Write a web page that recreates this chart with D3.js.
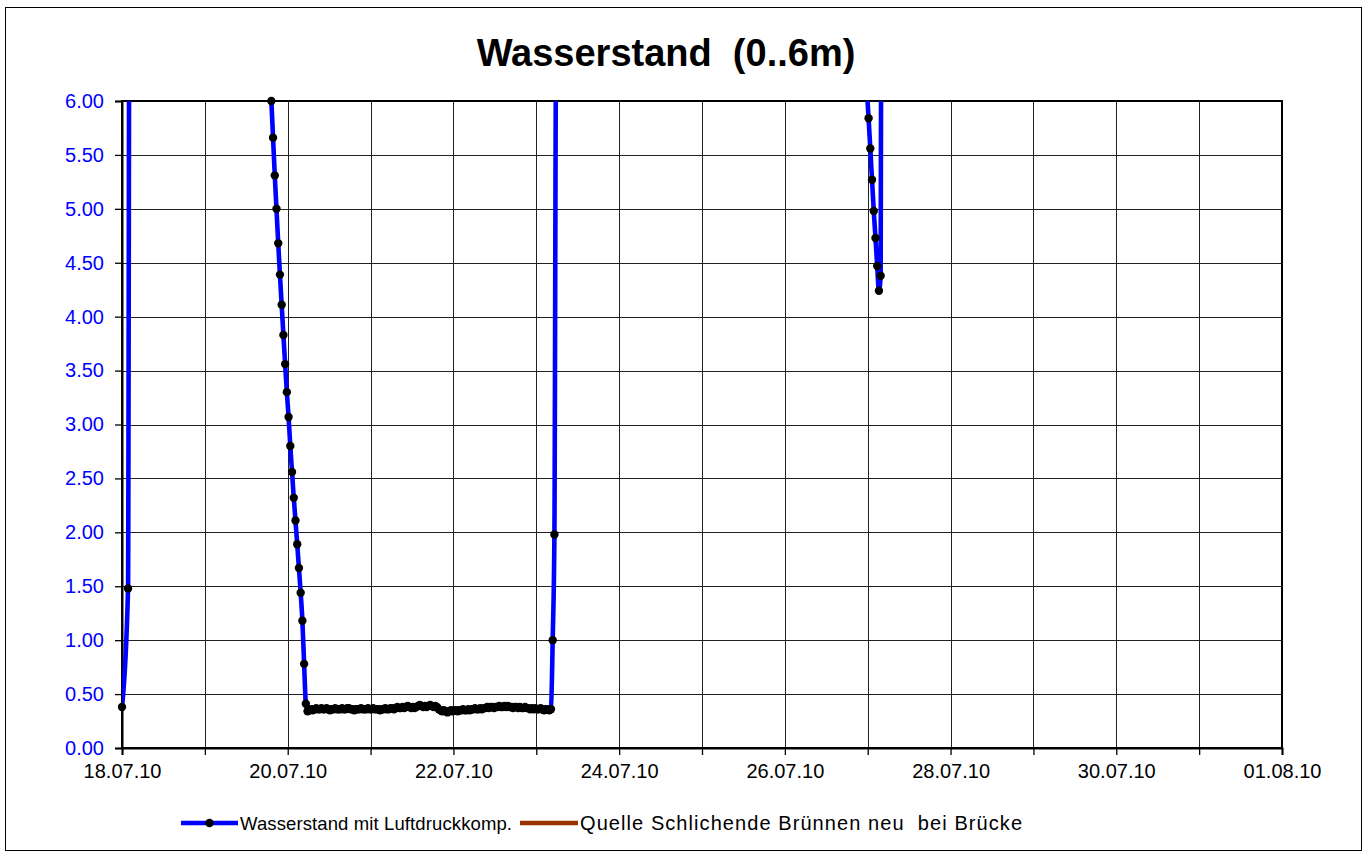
<!DOCTYPE html>
<html>
<head>
<meta charset="utf-8">
<script src="https://cdn.jsdelivr.net/npm/d3@7"></script>
<style>
  html, body { margin: 0; padding: 0; background: #fff; }
  svg { display: block; }
  text { font-family: "Liberation Sans", Arial, sans-serif; }
</style>
</head>
<body>
<svg id="chart" width="1368" height="858"></svg>
<script>
// ---------------- data ----------------
const chartTitle = "Wasserstand  (0..6m)";
const seriesNames = ["Wasserstand mit Luftdruckkomp.", "Quelle Schlichende Brünnen neu  bei Brücke"];

// start of record (values above 6 m are off the scale)
const leadTimes  = ["18.07.10 00:00", "18.07.10 01:45", "18.07.10 02:15", "19.07.10 18:45"];
const leadValues = [0.38, 1.48, 9.0, 6.2];

// continuous 30-minute log run starting 19.07.10 19:15
const runStart = "19.07.10 19:15";
const runStepMinutes = 30;
const runDescent = [6.00, 5.66, 5.31, 5.00, 4.68, 4.39, 4.11, 3.83, 3.56, 3.30,
                    3.07, 2.80, 2.56, 2.32, 2.11, 1.89, 1.67, 1.44, 1.18, 0.78, 0.41];
const runFlat = [
  0.34, 0.35, 0.36, 0.35, 0.36, 0.37, 0.36, 0.36, 0.37, 0.36,
  0.36, 0.37, 0.36, 0.35, 0.36, 0.36, 0.37, 0.36, 0.36, 0.36,
  0.37, 0.36, 0.36, 0.37, 0.37, 0.36, 0.36, 0.35, 0.36, 0.36,
  0.36, 0.37, 0.36, 0.36, 0.36, 0.37, 0.36, 0.36, 0.37, 0.36,
  0.36, 0.36, 0.35, 0.36, 0.36, 0.37, 0.36, 0.36, 0.37, 0.37,
  0.36, 0.37, 0.38, 0.37, 0.37, 0.38, 0.37, 0.38, 0.39, 0.38,
  0.37, 0.38, 0.37, 0.38, 0.39, 0.40, 0.39, 0.38, 0.39, 0.38,
  0.39, 0.40, 0.39, 0.38, 0.39, 0.38, 0.36, 0.35, 0.34, 0.35,
  0.34, 0.33, 0.34, 0.35, 0.34, 0.35, 0.35, 0.34, 0.35, 0.35,
  0.36, 0.35, 0.35, 0.36, 0.35, 0.36, 0.36, 0.37, 0.36, 0.36,
  0.37, 0.36, 0.37, 0.37, 0.38, 0.37, 0.38, 0.38, 0.37, 0.38,
  0.38, 0.39, 0.38, 0.38, 0.39, 0.38, 0.39, 0.38, 0.38, 0.37,
  0.38, 0.38, 0.37, 0.38, 0.37, 0.37, 0.38, 0.37, 0.37, 0.36,
  0.37, 0.36, 0.37, 0.36, 0.36, 0.37, 0.36, 0.35, 0.36, 0.36, 0.35, 0.36
];
const runRise = [1.00, 1.98, 6.5];

// short dip back into range on 27.07.10
const spikeStart = "26.07.10 23:45";
const spikeValues = [6.05, 5.84, 5.56, 5.27, 4.98, 4.73, 4.47, 4.24, 4.38, 12.0];

// second series: no values inside the 0..6 m window
const quelleValues = [];

// axis ticks
const xDomain = ["18.07.10 00:00", "01.08.10 00:00"];
const xLabelStepDays = 2;
const yTicks = [0, 0.5, 1, 1.5, 2, 2.5, 3, 3.5, 4, 4.5, 5, 5.5, 6];

// ---------------- build ----------------
(function () {
const parse = d3.utcParse("%d.%m.%y %H:%M");
const series = [];
leadTimes.forEach((t, i) => series.push({ t: parse(t), v: leadValues[i] }));
const run = runDescent.concat(runFlat, runRise);
const r0 = parse(runStart);
run.forEach((v, i) => series.push({ t: d3.utcMinute.offset(r0, i * runStepMinutes), v }));
const s0 = parse(spikeStart);
spikeValues.forEach((v, i) => series.push({ t: d3.utcMinute.offset(s0, i * runStepMinutes), v }));

const svg = d3.select("#chart");
const pL = 122, pR = 1282, pT = 101, pB = 748;

// outer frame
svg.append("rect").attr("x", 5.5).attr("y", 7.5).attr("width", 1356).attr("height", 843)
  .attr("fill", "#fff").attr("stroke", "#000").attr("stroke-width", 1);

const x = d3.scaleUtc().domain(xDomain.map(parse)).range([pL, pR]);
const y = d3.scaleLinear().domain([0, 6]).range([pB, pT]);

// gridlines
const dayTicks = d3.utcDay.range(x.domain()[0], d3.utcDay.offset(x.domain()[1], 1));
svg.append("g").selectAll("line").data(yTicks).join("line")
  .attr("x1", pL).attr("x2", pR)
  .attr("y1", d => Math.round(y(d)) + 0.5).attr("y2", d => Math.round(y(d)) + 0.5)
  .attr("stroke", "#222").attr("stroke-width", 1);
svg.append("g").selectAll("line").data(dayTicks).join("line")
  .attr("y1", pT).attr("y2", pB)
  .attr("x1", d => Math.round(x(d)) + 0.5).attr("x2", d => Math.round(x(d)) + 0.5)
  .attr("stroke", "#222").attr("stroke-width", 1);

// plot frame
svg.append("rect").attr("x", pL).attr("y", pT).attr("width", pR - pL).attr("height", pB - pT)
  .attr("fill", "none").attr("stroke", "#000").attr("stroke-width", 2);

// y axis
const yAxis = d3.axisLeft(y).tickValues(yTicks).tickFormat(d3.format(".2f")).tickSize(7).tickPadding(11);
const gy = svg.append("g").attr("transform", `translate(${pL},0)`).call(yAxis);
gy.select(".domain").attr("stroke", "#000").attr("stroke-width", 2);
gy.selectAll(".tick line").attr("stroke", "#000").attr("stroke-width", 1.3);
gy.selectAll(".tick text").attr("fill", "#0000FF").style("font-size", "20px")
  .style("font-family", "'Liberation Sans', Arial, sans-serif");

// x axis
const xAxis = d3.axisBottom(x).tickValues(dayTicks)
  .tickFormat((d, i) => (i % xLabelStepDays === 0 ? d3.utcFormat("%d.%m.%y")(d) : ""))
  .tickSize(7).tickPadding(9);
const gx = svg.append("g").attr("transform", `translate(0,${pB})`).call(xAxis);
gx.select(".domain").attr("stroke", "#000").attr("stroke-width", 2);
gx.selectAll(".tick line").attr("stroke", "#000").attr("stroke-width", 1.3);
gx.selectAll(".tick text").attr("fill", "#000").style("font-size", "20px")
  .style("font-family", "'Liberation Sans', Arial, sans-serif");

// clip
svg.append("clipPath").attr("id", "plotClip").append("rect")
  .attr("x", pL).attr("y", pT).attr("width", pR - pL).attr("height", pB - pT);

const line = d3.line().x(d => x(d.t)).y(d => y(d.v)).curve(d3.curveMonotoneX);
svg.append("path").datum(series).attr("clip-path", "url(#plotClip)")
  .attr("d", line).attr("fill", "none").attr("stroke", "#0000FF").attr("stroke-width", 4.6)
  .attr("stroke-linejoin", "round");
svg.append("path").datum(quelleValues).attr("clip-path", "url(#plotClip)")
  .attr("d", line).attr("fill", "none").attr("stroke", "#993300").attr("stroke-width", 4.6);

svg.append("g").selectAll("circle").data(series.filter(d => d.v >= 0 && d.v <= 6)).join("circle")
  .attr("cx", d => x(d.t)).attr("cy", d => y(d.v)).attr("r", 4.2).attr("fill", "#000");

// title
svg.append("text").attr("x", 666).attr("y", 66).attr("text-anchor", "middle")
  .style("font-size", "38px").style("font-weight", "bold").attr("fill", "#000")
  .style("white-space", "pre").text(chartTitle);

// legend
const leg = svg.append("g");
leg.append("line").attr("x1", 181).attr("x2", 238).attr("y1", 823).attr("y2", 823)
  .attr("stroke", "#0000FF").attr("stroke-width", 4.6);
leg.append("circle").attr("cx", 209.5).attr("cy", 823).attr("r", 4.2).attr("fill", "#000");
leg.append("text").attr("x", 240).attr("y", 829.5).style("font-size", "18.5px").attr("fill", "#000")
  .attr("textLength", 272).attr("lengthAdjust", "spacing")
  .text(seriesNames[0]);
leg.append("line").attr("x1", 520).attr("x2", 578).attr("y1", 823).attr("y2", 823)
  .attr("stroke", "#993300").attr("stroke-width", 4.6);
leg.append("text").attr("x", 580).attr("y", 830).style("font-size", "20px").attr("fill", "#000")
  .attr("textLength", 442).attr("lengthAdjust", "spacing")
  .style("white-space", "pre").text(seriesNames[1]);
})();
</script>
</body>
</html>
